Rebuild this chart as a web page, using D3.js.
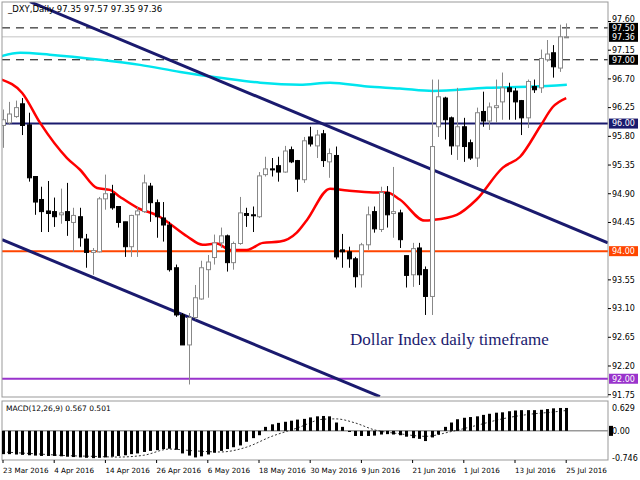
<!DOCTYPE html>
<html><head><meta charset="utf-8">
<script src="https://cdn.jsdelivr.net/npm/d3@7"></script>
<style>body{margin:0;background:#fff}svg{display:block}</style>
</head><body><svg id="c" width="640" height="480"></svg>
<script>
const dates=["23 Mar 2016","4 Apr 2016","14 Apr 2016","26 Apr 2016","6 May 2016","18 May 2016","30 May 2016","9 Jun 2016","21 Jun 2016","1 Jul 2016","13 Jul 2016","25 Jul 2016"];
const ohlc=[
[95.97,96.22,95.62,96.06],[96.01,96.34,95.98,96.15],[96.11,96.36,96.09,96.25],[96.31,96.40,95.82,95.97],[95.98,96.17,95.09,95.15],
[95.17,95.17,94.57,94.77],[94.81,95.01,94.30,94.62],[94.63,95.10,94.30,94.59],[94.62,94.84,94.38,94.54],[94.57,94.98,94.43,94.60],
[94.62,95.07,94.24,94.48],[94.45,94.68,93.99,94.56],[94.54,94.68,94.07,94.21],[94.19,94.27,93.74,93.98],[93.98,94.05,93.63,94.01],
[93.99,94.85,93.98,94.82],[94.82,95.20,94.65,94.90],[94.90,95.04,94.65,94.68],[94.70,94.70,94.37,94.45],[94.46,94.46,93.91,94.07],
[94.07,94.57,93.91,94.56],[94.57,94.70,93.91,94.63],[94.62,95.20,94.60,95.07],[95.02,95.07,94.46,94.76],[94.76,94.81,94.21,94.54],
[94.52,94.77,94.15,94.41],[94.41,94.46,93.68,93.71],[93.74,93.79,92.97,93.00],[93.00,93.03,92.53,92.53],[92.53,93.03,91.91,92.96],
[92.96,93.47,92.93,93.27],[93.25,93.85,93.24,93.74],[93.71,93.94,93.27,93.83],[93.90,94.26,93.79,94.13],[94.13,94.37,94.05,94.24],
[94.24,94.26,93.68,93.82],[93.82,94.15,93.71,94.12],[94.12,94.85,94.10,94.60],[94.59,94.68,94.38,94.56],[94.57,94.70,94.30,94.56],
[94.54,95.24,94.52,95.18],[95.20,95.48,95.17,95.29],[95.29,95.46,95.17,95.28],[95.34,95.48,95.09,95.24],[95.24,95.65,95.23,95.57],
[95.59,95.64,95.38,95.40],[95.42,95.43,94.93,95.13],[95.12,95.79,95.07,95.73],[95.79,95.95,95.64,95.68],[95.65,95.90,95.46,95.82],
[95.84,95.90,95.32,95.42],[95.40,95.61,95.15,95.53],[95.50,95.64,93.87,93.91],[94.02,94.27,93.74,93.99],[93.99,94.07,93.74,93.88],
[93.88,93.91,93.43,93.60],[93.63,94.13,93.43,94.10],[94.10,94.70,94.02,94.57],[94.62,94.70,94.29,94.35],[94.34,95.01,94.30,94.92],
[94.92,95.02,94.37,94.57],[94.59,95.32,94.21,94.62],[94.60,94.65,94.05,94.18],[93.93,93.93,93.43,93.62],[93.63,94.13,93.44,94.04],
[94.05,94.13,93.47,93.63],[93.71,93.76,93.00,93.29],[93.29,96.69,93.00,95.64],[95.95,96.69,95.79,96.42],[96.40,96.42,95.75,96.06],
[96.09,96.11,95.51,95.65],[95.65,96.56,95.43,95.95],[95.95,96.09,95.40,95.64],[95.70,95.75,95.43,95.46],[95.46,96.25,95.32,96.17],
[96.19,96.50,95.95,96.04],[96.04,96.33,95.90,96.26],[96.25,96.69,96.01,96.28],[96.34,96.80,96.06,96.56],[96.56,96.64,96.06,96.50],
[96.51,96.56,96.06,96.34],[96.36,96.37,95.82,96.09],[96.09,96.69,95.93,96.66],[96.58,96.69,96.48,96.53],[96.56,97.16,96.48,97.02],
[97.00,97.31,96.97,97.09],[97.11,97.23,96.72,96.89],[96.87,97.55,96.81,97.36],[97.35,97.57,97.35,97.36]];
const maRed=[[-0.2,96.69],[3,96.48],[5.8,96.01],[10,95.46],[12,95.28],[14.7,94.99],[16.7,94.96],[18.3,94.85],[21,94.68],[24.5,94.54],[25.8,94.45],[28.8,94.23],[31.2,94.10],[33.4,94.12],[35.5,94.02],[38.1,94.02],[40.6,94.13],[43.3,94.15],[45.9,94.29],[47.5,94.49],[51.1,94.98],[53.8,94.95],[57.8,94.92],[60,94.92],[62,94.81],[65.9,94.48],[67.2,94.49],[70.9,94.57],[74,94.81],[78.1,95.31],[80.8,95.48],[83.9,95.95],[85.9,96.26],[88,96.40]];
const maCyan=[[-0.5,97.05],[2.7,97.11],[7.3,97.08],[15.2,97.00],[21.4,96.92],[27.7,96.81],[33.9,96.72],[40.2,96.64],[46.4,96.61],[51.1,96.64],[56.9,96.58],[62,96.55],[67.2,96.51],[75.6,96.56],[82.8,96.58],[88.1,96.61]];
const trendUpper=[[4.2,97.91],[94.5,94.13]];
const trendLower=[[-0.15,94.18],[58.9,91.72]];
const levels=[{v:97.5,c:"#000",dash:"8,6",w:1,box:"#000"},{v:97.0,c:"#000",dash:"8,6",w:1,box:"#000"},{v:97.36,c:"#d8d8d8",dash:null,w:1.5,box:"#000"},{v:96.0,c:"#1a1a6e",dash:null,w:2,box:"#1a1a6e"},{v:94.0,c:"#ff4500",dash:null,w:2,box:"#ff4500"},{v:92.0,c:"#9933cc",dash:null,w:2,box:"#9933cc"}];
const priceTicks=[97.60,97.15,96.70,96.25,95.80,95.35,94.90,94.45,93.55,93.10,92.65,92.20,91.75];
const macdHist=[-0.64,-0.64,-0.65,-0.66,-0.67,-0.68,-0.69,-0.69,-0.69,-0.70,-0.71,-0.72,-0.73,-0.74,-0.75,
-0.74,-0.73,-0.71,-0.69,-0.67,-0.64,-0.62,-0.58,-0.55,-0.53,-0.50,-0.49,-0.52,-0.62,-0.68,-0.73,-0.70,-0.65,-0.60,-0.55,-0.50,-0.45,-0.40,-0.30,-0.20,-0.12,
0.11,0.18,0.22,0.25,0.28,0.31,0.33,0.37,0.40,0.41,0.40,0.23,0.11,-0.03,-0.14,-0.14,-0.14,-0.13,-0.10,-0.09,-0.10,-0.12,-0.16,-0.20,-0.22,-0.28,-0.18,-0.10,
0.11,0.23,0.32,0.36,0.38,0.40,0.44,0.47,0.50,0.51,0.54,0.56,0.57,0.57,0.57,0.58,0.60,0.62,0.63,0.63];
const macdSignal=[[0,-0.58],[5,-0.63],[10,-0.68],[14,-0.70],[18,-0.72],[22,-0.67],[26,-0.50],[30,-0.55],[34,-0.58],[38,-0.45],[42,-0.15],[46,0.08],[50,0.32],[52,0.33],[55,0.22],[58,0.03],[62,-0.08],[66,-0.15],[70,-0.02],[74,0.15],[78,0.33],[82,0.45],[86,0.52],[88,0.56]];

const svg=d3.select("#c");
const L=2,R=608,T=2,B=397,MT=401,MB=460;
const x=d3.scaleLinear().domain([0,88]).range([3,566.2]);
const y=d3.scaleLinear().domain([91.75,97.6]).range([394.7,21.5]);
const ym=d3.scaleLinear().domain([-0.746,0.629]).range([458,408]);
const font="Tahoma, 'DejaVu Sans', sans-serif";

svg.append("defs").append("clipPath").attr("id","cp").append("rect").attr("x",L).attr("y",T).attr("width",R-L).attr("height",B-T);
const g=svg.append("g").attr("clip-path","url(#cp)");

levels.forEach(l=>{g.append("line").attr("x1",L).attr("x2",R).attr("y1",y(l.v)).attr("y2",y(l.v)).attr("stroke",l.c).attr("stroke-width",l.w).attr("stroke-dasharray",l.dash);});
const line=d3.line().x(d=>x(d[0])).y(d=>y(d[1])).curve(d3.curveMonotoneX);
g.append("path").attr("d",line(maCyan)).attr("fill","none").attr("stroke","#00e5ee").attr("stroke-width",2.5);
g.append("path").attr("d",line(maRed)).attr("fill","none").attr("stroke","#ff0000").attr("stroke-width",2.5);
[trendUpper,trendLower].forEach(t=>g.append("path").attr("d",d3.line().x(d=>x(d[0])).y(d=>y(d[1]))(t)).attr("stroke","#1a1a6e").attr("stroke-width",3).attr("fill","none"));

const cg=g.append("g");
ohlc.forEach((d,i)=>{
  const [o,h,l,c]=d; const up=c>=o; const cx=Math.round(x(i))+0.5;
  cg.append("line").attr("x1",cx).attr("x2",cx).attr("y1",y(h)).attr("y2",y(l)).attr("stroke",up?"#888":"#000").attr("stroke-width",1);
  const top=y(Math.max(o,c)), bh=Math.max(1,y(Math.min(o,c))-top);
  cg.append("rect").attr("x",cx-2).attr("y",top).attr("width",4).attr("height",bh).attr("fill",up?"#fff":"#000").attr("stroke",up?"#888":"#000").attr("stroke-width",1);
});

g.append("text").attr("x",350).attr("y",345).attr("font-family","'Liberation Serif','DejaVu Serif',serif").attr("font-size",17).attr("fill","#1a1a6e").text("Dollar Index daily timeframe");

svg.append("rect").attr("x",L).attr("y",T).attr("width",R-L).attr("height",B-T).attr("fill","none").attr("stroke","#999");
svg.append("rect").attr("x",L).attr("y",MT).attr("width",R-L).attr("height",MB-MT).attr("fill","none").attr("stroke","#999");

svg.append("text").attr("x",8).attr("y",12).attr("font-family",font).attr("font-size",8.5).text("_DXY,Daily  97.35 97.57 97.35 97.36");

priceTicks.forEach(v=>{
  svg.append("line").attr("x1",R).attr("x2",R+3).attr("y1",y(v)).attr("y2",y(v)).attr("stroke","#000");
  svg.append("text").attr("x",612).attr("y",y(v)-(v===97.6?2:0)).attr("dy","0.35em").attr("font-family",font).attr("font-size",8).text(v.toFixed(2));
});
levels.forEach(l=>{
  svg.append("rect").attr("x",609).attr("y",y(l.v)-5).attr("width",29).attr("height",10).attr("fill",l.box);
  svg.append("text").attr("x",612).attr("y",y(l.v)).attr("dy","0.35em").attr("font-family",font).attr("font-size",8).attr("fill","#fff").text(l.v.toFixed(2));
});

svg.append("line").attr("x1",L).attr("x2",R).attr("y1",ym(0)).attr("y2",ym(0)).attr("stroke","#999").attr("stroke-width",1.5);
macdHist.forEach((v,i)=>{
  const cx=Math.round(x(i));
  svg.append("rect").attr("x",cx-1).attr("width",3).attr("y",Math.min(ym(v),ym(0))).attr("height",Math.abs(ym(v)-ym(0))).attr("fill","#000");
});
svg.append("path").attr("d",d3.line().x(d=>x(d[0])).y(d=>ym(d[1])).curve(d3.curveMonotoneX)(macdSignal)).attr("fill","none").attr("stroke","#000").attr("stroke-width",0.8).attr("stroke-dasharray","2,2");
svg.append("text").attr("x",6).attr("y",411).attr("font-family",font).attr("font-size",7.5).text("MACD(12,26,9) 0.567 0.501");
[[0.629,"0.629"],[-0.746,"-0.746"]].forEach(([v,t])=>svg.append("text").attr("x",612).attr("y",ym(v)).attr("dy","0.35em").attr("font-family",font).attr("font-size",8).text(t));
svg.append("rect").attr("x",609).attr("y",ym(0)-5).attr("width",4).attr("height",10).attr("fill","#000");
svg.append("text").attr("x",612).attr("y",ym(0)).attr("dy","0.35em").attr("font-family",font).attr("font-size",8).text("0.00");

dates.forEach((d,k)=>{
  const xx=x(k*8);
  svg.append("line").attr("x1",xx).attr("x2",xx).attr("y1",MB).attr("y2",MB+3).attr("stroke","#000");
  svg.append("text").attr("x",xx).attr("y",473).attr("font-family",font).attr("font-size",7.2).text(d);
});
</script></body></html>
